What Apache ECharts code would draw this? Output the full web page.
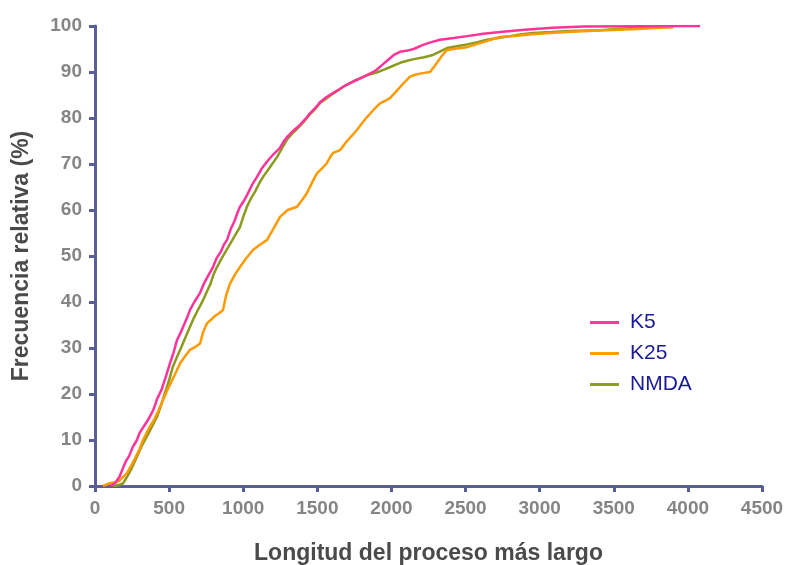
<!DOCTYPE html>
<html><head><meta charset="utf-8">
<script src="https://cdn.jsdelivr.net/npm/echarts@6/dist/echarts.min.js"></script>
<style>html,body{margin:0;padding:0;background:#fff}#c{width:785px;height:565px}</style>
</head><body><div id="c"></div>
<script>
var seriesNames = ['K5', 'K25', 'NMDA'];
var xTicks = [0, 500, 1000, 1500, 2000, 2500, 3000, 3500, 4000, 4500];
var yTicks = [0, 10, 20, 30, 40, 50, 60, 70, 80, 90, 100];
var k5 = [[100,0],[135,0.6],[165,2],[190,4],[210,5.5],[230,6.5],[255,8.5],[283,10],[300,11.5],[330,13],[360,14.5],[393,16.5],[420,19],[450,21],[480,24],[506,26.7],[530,29],[553,31.7],[580,33.5],[600,35],[620,36.5],[641,38.3],[670,40],[709,42],[735,44],[760,45.5],[796,47.6],[820,49.5],[850,51],[870,52.5],[891,53.5],[915,55.8],[940,57.5],[960,59.3],[978,60.7],[1005,62],[1030,63.5],[1060,65.5],[1093,67.2],[1125,69],[1160,70.5],[1200,72],[1248,73.5],[1275,75],[1300,76],[1340,77.3],[1383,78.5],[1420,79.8],[1450,81],[1490,82.3],[1520,83.5],[1560,84.5],[1600,85.3],[1640,86.1],[1675,86.8],[1710,87.4],[1750,88],[1790,88.6],[1835,89.3],[1870,89.9],[1900,90.5],[1940,91.6],[1990,93],[2020,93.8],[2058,94.4],[2100,94.6],[2150,95],[2213,95.9],[2270,96.5],[2328,97],[2420,97.4],[2510,97.8],[2620,98.3],[2733,98.7],[2900,99.2],[3090,99.6],[3300,99.9],[4083,100]];
var k25 = [[54,0],[100,0.6],[160,1],[190,2],[216,2.8],[245,4.5],[270,6],[300,8],[324,10],[360,12.3],[400,14.5],[430,16.5],[459,18.7],[490,21],[520,23],[550,25],[574,26.7],[610,28.3],[641,29.6],[680,30.3],[709,31],[730,33.5],[756,35.4],[785,36.2],[810,37],[840,37.6],[864,38.3],[885,41.5],[911,44],[945,46],[978,47.6],[1020,49.5],[1066,51.3],[1110,52.4],[1161,53.5],[1205,56],[1248,58.5],[1300,60],[1363,60.7],[1400,62.3],[1430,63.7],[1465,66],[1498,68],[1530,69],[1560,70],[1585,71.4],[1606,72.4],[1653,73],[1700,75],[1735,76.2],[1767,77.4],[1800,78.8],[1835,80.2],[1880,81.8],[1923,83.2],[1960,83.8],[1990,84.3],[2015,85.2],[2038,86],[2080,87.5],[2125,89],[2160,89.4],[2200,89.7],[2260,90],[2285,91],[2307,92],[2340,93.5],[2375,94.8],[2440,95.1],[2510,95.4],[2560,95.9],[2620,96.5],[2680,97.1],[2733,97.6],[2850,97.9],[2950,98.2],[3070,98.5],[3185,98.7],[3400,99],[3630,99.3],[3900,99.8]];
var nmda = [[120,0],[160,0.2],[190,0.6],[220,2.2],[250,4],[285,6.5],[320,9],[370,12],[418,15],[445,17.5],[470,20],[500,23],[526,26],[555,28.2],[580,30],[610,32.3],[641,34.6],[665,36.4],[690,38],[710,39.2],[729,40.4],[755,42.3],[780,44],[800,46],[823,47.6],[860,49.8],[900,52],[940,54.2],[978,56.3],[1000,58.5],[1025,60.7],[1050,62.4],[1080,64],[1105,65.6],[1134,67.2],[1180,69.3],[1228,71.5],[1265,73.6],[1300,75.5],[1340,76.9],[1383,78.3],[1420,79.6],[1450,80.8],[1490,82.1],[1520,83.3],[1560,84.2],[1600,85.2],[1640,86],[1675,86.8],[1720,87.6],[1760,88.3],[1800,88.8],[1835,89.3],[1900,89.9],[1950,90.5],[2000,91.2],[2058,92],[2100,92.4],[2150,92.8],[2220,93.2],[2280,93.7],[2330,94.5],[2375,95.2],[2440,95.6],[2510,96],[2580,96.5],[2645,97],[2720,97.4],[2800,97.8],[2880,98.2],[2955,98.5],[3080,98.7],[3200,98.9],[3407,99.1],[3600,99.5],[3900,99.8]];
var colors = {K5:'#ff3399', K25:'#ff9900', NMDA:'#8c9a1e'};
var axisColor = '#5a5e98';
var font = 'Liberation Sans, Arial, sans-serif';
var chart = echarts.init(document.getElementById('c'));
function mk(name, data, z) {
  return {name:name, type:'line', data:data, showSymbol:false, symbol:'none', z:z,
    lineStyle:{color:colors[name], width:2.5}, itemStyle:{color:colors[name]}, animation:false};
}
chart.setOption({
  animation:false,
  grid:{left:95, right:23, top:26, bottom:79, containLabel:false, outerBoundsMode:'none'},
  legend:{data:seriesNames, orient:'vertical', left:585, top:307, itemWidth:29, itemHeight:14, itemGap:10,
    icon:'path://M0,0 L30,0 L30,3 L0,3 Z',
    textStyle:{color:'#1a1a99', fontFamily:font, fontSize:21, padding:[0,0,0,6]}},
  xAxis:{type:'value', min:0, max:4500, interval:500,
    name:'Longitud del proceso más largo', nameLocation:'middle', nameGap:56,
    nameTextStyle:{color:'#4a4a4a', fontWeight:'bold', fontSize:23, fontFamily:font},
    axisLine:{show:true, lineStyle:{color:axisColor, width:3}},
    axisTick:{show:true, length:6, lineStyle:{color:axisColor, width:3}},
    axisLabel:{color:'#858585', fontWeight:'bold', fontSize:19, fontFamily:font, margin:13,
      formatter:function(v){return xTicks.indexOf(v)>=0?String(v):'';}},
    splitLine:{show:false}},
  yAxis:{type:'value', min:0, max:100, interval:10,
    name:'Frecuencia relativa (%)', nameLocation:'middle', nameGap:62,
    nameTextStyle:{color:'#4a4a4a', fontWeight:'bold', fontSize:23, fontFamily:font},
    axisLine:{show:true, lineStyle:{color:axisColor, width:3}},
    axisTick:{show:true, length:6, lineStyle:{color:axisColor, width:3}},
    axisLabel:{color:'#858585', fontWeight:'bold', fontSize:19, fontFamily:font, margin:13,
      formatter:function(v){return yTicks.indexOf(v)>=0?String(v):'';}},
    splitLine:{show:false}},
  series:[mk('K5', k5, 4), mk('K25', k25, 3), mk('NMDA', nmda, 2)]
});
</script></body></html>
